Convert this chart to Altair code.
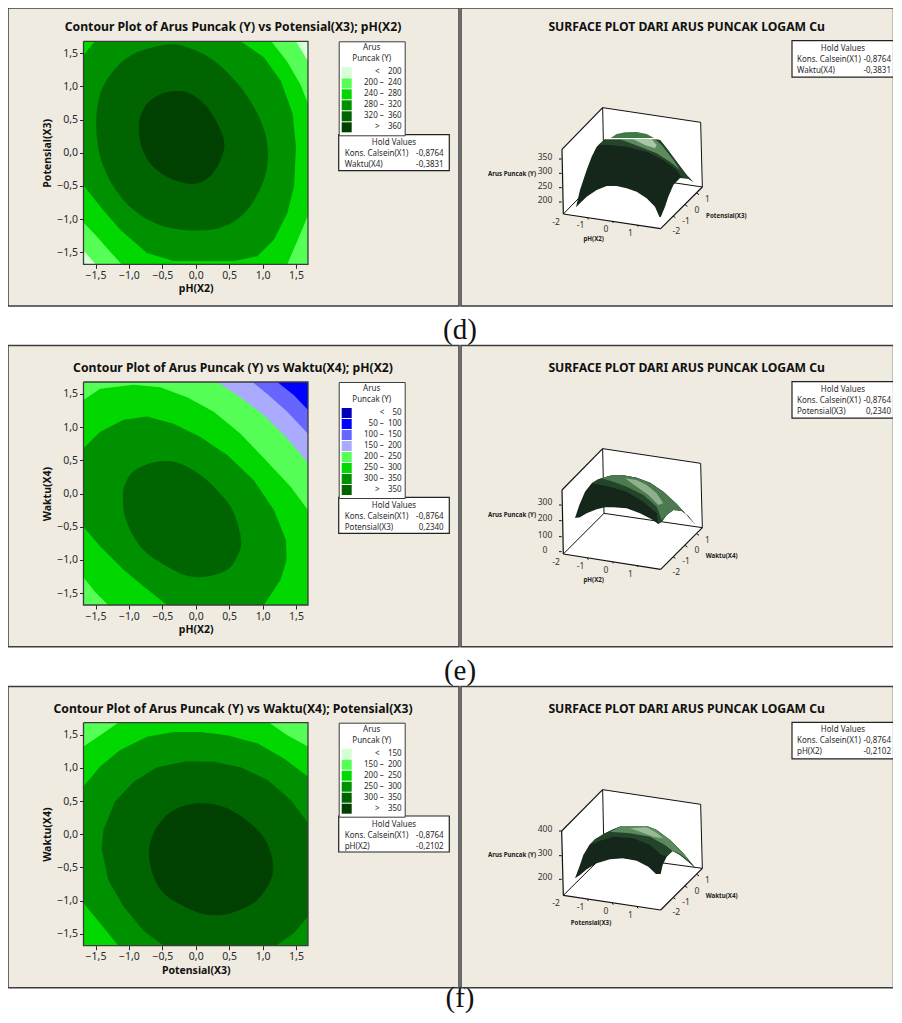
import altair as alt
import pandas as pd

SANS = "Noto Sans"
BEIGE = "#EFEBE0"
FRAME = "#3C3C3C"
INK = "#2A2A2A"

TICKS = [-1.5, -1.0, -0.5, 0.0, 0.5, 1.0, 1.5]
CORNERS = [(-1.68, 1.68), (1.68, 1.68), (1.68, -1.68), (-1.68, -1.68)]

# ---- colours
GREENS6 = ["#D5FFD5", "#55FF55", "#00D800", "#009100", "#006500", "#004000"]
E_COLORS = ["#0000BB", "#0000FF", "#6666FF", "#AAAAFF", "#55FF55", "#00D800", "#009100", "#006500"]

NB = "\u00a0"
def rng(a, b):
    return f"{a}{NB}–{NB}{NB}{b}"
def lt(b):
    return f"<{NB}{NB}{NB}{NB}{b}"
def gt(b):
    return f">{NB}{NB}{NB}{NB}{b}"

D_LABELS = [lt(200), rng(200, 240), rng(240, 280), rng(280, 320), rng(320, 360), gt(360)]
E_LABELS = [lt(50), rng(50, 100), rng(100, 150), rng(150, 200), rng(200, 250), rng(250, 300), rng(300, 350), gt(350)]
F_LABELS = [lt(150), rng(150, 200), rng(200, 250), rng(250, 300), rng(300, 350), gt(350)]

# ---- contour regions, panel (d)
D_200 = [(-1.68,1.68),(1.50,1.68),(1.68,1.38),(1.68,-1.68),(-1.50,-1.68),(-1.68,-1.47)]
D_240 = [(-1.68,1.68),(1.13,1.68),(1.37,1.37),(1.57,1.02),(1.68,0.74),(1.68,-0.94),(1.57,-1.21),(1.37,-1.68),(-1.11,-1.68),(-1.28,-1.49),(-1.48,-1.26),(-1.68,-1.05)]
D_280 = [(-1.68,1.47),(-1.51,1.68),(0.67,1.68),(1.02,1.44),(1.27,1.09),(1.45,0.59),(1.50,0.09),(1.47,-0.51),(1.37,-0.91),(1.17,-1.31),(0.92,-1.56),(0.57,-1.63),(-0.33,-1.63),(-0.73,-1.51),(-1.13,-1.16),(-1.43,-0.81),(-1.68,-0.49)]
D_320 = [(-1.49,0.44),(-1.43,0.89),(-1.23,1.24),(-0.93,1.49),(-0.43,1.63),(-0.13,1.59),(0.27,1.39),(0.67,0.99),(0.97,0.49),(1.08,0.04),(1.02,-0.41),(0.77,-0.86),(0.42,-1.11),(-0.03,-1.17),(-0.53,-1.09),(-0.93,-0.86),(-1.23,-0.51),(-1.43,-0.06)]
D_360 = [(-0.85,0.34),(-0.83,0.54),(-0.73,0.74),(-0.53,0.88),(-0.31,0.93),(-0.08,0.89),(0.17,0.69),(0.35,0.39),(0.43,0.12),(0.35,-0.16),(0.17,-0.39),(-0.08,-0.47),(-0.43,-0.36),(-0.68,-0.16),(-0.81,0.09)]

# ---- contour regions, panel (e)
E_100 = [(-1.68,1.68),(1.22,1.68),(1.47,1.48),(1.68,1.26),(1.68,-1.68),(-1.68,-1.68)]
E_150 = [(-1.68,1.68),(0.85,1.68),(1.07,1.50),(1.37,1.23),(1.68,0.90),(1.68,-1.68),(-1.68,-1.68)]
E_200 = [(-1.68,1.68),(0.32,1.68),(0.67,1.45),(1.02,1.18),(1.37,0.83),(1.68,0.46),(1.68,-1.68),(-1.68,-1.68)]
E_250 = [(-1.68,1.41),(-1.43,1.58),(-0.93,1.64),(-0.53,1.60),(-0.13,1.45),(0.27,1.23),(0.67,0.90),(1.07,0.48),(1.42,0.10),(1.68,-0.25),(1.68,-1.68),(-1.31,-1.68),(-1.51,-1.48),(-1.68,-1.26)]
E_300 = [(-1.68,0.68),(-1.43,0.93),(-1.08,1.11),(-0.73,1.16),(-0.33,1.05),(0.07,0.85),(0.47,0.58),(0.87,0.20),(1.17,-0.25),(1.35,-0.70),(1.36,-1.00),(1.27,-1.30),(1.02,-1.68),(-0.43,-1.68),(-0.78,-1.40),(-1.08,-1.15),(-1.43,-0.80),(-1.68,-0.50)]
E_350 = [(-1.09,-0.10),(-1.07,0.10),(-0.96,0.31),(-0.73,0.44),(-0.48,0.49),(-0.23,0.45),(0.07,0.28),(0.32,0.05),(0.55,-0.25),(0.68,-0.70),(0.62,-0.95),(0.47,-1.15),(0.17,-1.25),(-0.13,-1.24),(-0.43,-1.10),(-0.73,-0.90),(-0.93,-0.65),(-1.06,-0.35)]

# ---- contour regions, panel (f)
F_200 = [(-1.68,1.32),(-1.43,1.49),(-1.16,1.68),(1.10,1.68),(1.37,1.49),(1.68,1.32),(1.68,-1.68),(-1.68,-1.68)]
F_250 = [(-1.68,0.72),(-1.43,1.02),(-1.13,1.27),(-0.73,1.47),(-0.33,1.54),(0.07,1.54),(0.47,1.49),(0.92,1.37),(1.32,1.14),(1.68,0.87),(1.68,-1.68),(-1.16,-1.68),(-1.43,-1.34),(-1.68,-1.04)]
F_300 = [(-1.41,-0.21),(-1.38,0.07),(-1.21,0.49),(-0.93,0.79),(-0.58,1.01),(-0.13,1.10),(0.27,1.09),(0.67,1.01),(1.07,0.82),(1.42,0.52),(1.68,0.17),(1.68,-1.24),(1.47,-1.49),(1.20,-1.68),(-0.48,-1.68),(-0.78,-1.46),(-1.08,-1.09),(-1.31,-0.69)]
F_350 = [(-0.70,-0.29),(-0.63,0.02),(-0.48,0.24),(-0.28,0.39),(-0.03,0.46),(0.27,0.45),(0.57,0.34),(0.87,0.12),(1.07,-0.14),(1.16,-0.49),(1.10,-0.74),(0.92,-0.99),(0.67,-1.14),(0.37,-1.22),(0.07,-1.19),(-0.23,-1.06),(-0.48,-0.89),(-0.63,-0.64)]

# ---- surfaces, in a 720x540 projected plane
S_DARK, S_1, S_2, S_3, S_CAP = "#15271A", "#25452B", "#5E8A60", "#A8C8A8", "#3D7A45"

SD_BODY = [(138,352),(150,300),(170,240),(185,200),(200,170),(225,148),(372,146),(390,150),(410,175),(440,215),(470,255),(490,276),(475,266),(450,264),(430,285),(415,320),(405,350),(392,382),(388,380),(375,350),(350,325),(320,305),(290,295),(260,288),(230,288),(200,300),(170,320),(150,340)]
SD_CAP = [(242,144),(260,132),(285,127),(320,126),(350,132),(372,144)]
SD_B1 = [(205,165),(225,148),(372,148),(390,150),(410,175),(440,215),(470,255),(490,276),(475,266),(455,262),(440,240),(400,210),(350,185),(290,170),(240,165)]
SD_B2 = [(270,148),(375,148),(395,165),(430,210),(450,240),(420,215),(380,190),(330,170)]
SD_B3 = [(310,148),(365,148),(380,165),(375,175),(345,165)]
SD_GAP = [(228,146),(385,146)]

SE_BODY = [(135,264),(148,225),(165,185),(185,160),(205,148),(240,137),(275,135),(320,143),(360,158),(400,185),(440,222),(470,255),(497,285),(475,258),(455,242),(430,240),(410,255),(395,275),(385,282),(365,268),(330,250),(290,235),(250,232),(225,232),(200,238),(170,250),(150,262)]
SE_B1 = [(185,160),(205,148),(240,137),(275,135),(320,143),(360,158),(400,185),(440,222),(470,255),(497,285),(475,258),(455,242),(430,240),(410,255),(395,275),(385,282),(380,250),(340,215),(290,185),(240,170)]
SE_B2 = [(215,145),(240,137),(275,135),(320,143),(360,158),(400,185),(440,222),(470,255),(450,240),(430,240),(410,255),(395,270),(380,230),(340,195),(290,170),(250,155)]
SE_B3 = [(285,145),(320,150),(350,165),(380,190),(400,220),(385,225),(355,195),(320,170)]

SF_BODY = [(135,325),(150,285),(160,255),(178,225),(195,208),(225,190),(250,178),(275,168),(350,168),(380,180),(420,210),(460,250),(480,275),(497,295),(475,275),(450,255),(428,243),(410,260),(398,285),(392,312),(378,312),(355,290),(320,272),(280,265),(240,268),(200,280),(170,298),(150,315)]
SF_B1 = [(178,225),(195,208),(225,190),(250,178),(275,168),(350,168),(380,180),(420,210),(460,250),(497,295),(475,275),(450,255),(428,243),(410,258),(395,255),(360,225),(310,205),(250,200),(210,212)]
SF_B2 = [(240,185),(275,168),(350,168),(380,180),(420,210),(460,250),(480,275),(450,252),(428,243),(405,225),(360,200),(300,190)]
SF_B3 = [(300,175),(350,172),(375,185),(400,205),(370,200),(330,185)]

# box corners: front-left, top-left, top-back-left, top-back-right, floor-right, floor-front, floor-back
BOX_D = dict(A=(100,372), G=(96,178), E=(218,53), F=(512,97), C=(517,291), B=(392,416), D=(222,247))
BOX_E = dict(A=(100,372), G=(96,180), E=(218,56), F=(512,100), C=(517,293), B=(392,418), D=(222,250))
BOX_F = dict(A=(100,376), G=(95,183), E=(218,59), F=(512,103), C=(517,295), B=(392,420), D=(222,255))

# z ticks (label, label y, tick y)
Z_D = [("350",200,207),("300",242,250),("250",287,293),("200",329,336)]
Z_E = [("300",217,225),("200",265,272),("100",316,320),("0",361,365)]
Z_F = [("400",178,183),("300",250,257),("200",322,328)]
# front axis labels and ticks
FRONT_LABELS = ["-2", "-1", "0", "1"]
FRONT_X = [78, 152, 228, 301]
FRONT_TICK_X = [172, 247, 321]
FRONT_D = [397, 406, 418, 430]
FRONT_E = [397, 408, 421, 432]
FRONT_F = [400, 411, 424, 436]
FRONT_TICK_Y_D = [383, 394, 405]
FRONT_TICK_Y_E = [384, 395, 406]
FRONT_TICK_Y_F = [388, 399, 410]
# side axis
SIDE_X = [439, 468, 501, 532]
SIDE_D = [424, 392, 361, 328]
SIDE_E = [427, 394, 361, 331]
SIDE_F = [427, 397, 364, 331]
SIDE_TICK_X = [429, 465, 500]
SIDE_TICK_Y_D = [378, 344, 309]
SIDE_TICK_Y_E = [380, 346, 311]
SIDE_TICK_Y_F = [382, 348, 313]

def polygons(seq):
    rows = []
    for band, pts in seq:
        for i, (x, y) in enumerate(pts):
            rows.append(dict(band=band, i=i, x=x, y=y))
    return pd.DataFrame(rows)

ONE = alt.Data(values=[{"a": 1}])

def txt(s, x, y, size=8, weight="normal", align="left", font=SANS, color=INK):
    return alt.Chart(ONE).mark_text(text=s, fontSize=size, fontWeight=weight, align=align, baseline="middle",
                                    font=font, color=color).encode(x=alt.value(x), y=alt.value(y))

def box(x0, y0, x1, y1, fill, stroke, sw=1.5):
    return alt.Chart(ONE).mark_rect(fill=fill, stroke=stroke, strokeWidth=sw).encode(
        x=alt.value(x0), x2=alt.value(x1), y=alt.value(y0), y2=alt.value(y1))

def contour_panel(title, xt, yt, labels, colors, seq, closed, plot_top, view_h, panel_top, panel_bot,
                  hold2, hold2v, hold_top, caption, cap_y, title_y):
    plot_bot = plot_top + 223
    xs = alt.Scale(domain=[-1.68, 1.68], range=[75.5, 300], nice=False, zero=False)
    ys = alt.Scale(domain=[-1.68, 1.68], range=[plot_bot, plot_top], nice=False, zero=False)
    lblx = "replace(format(datum.value,'.1f'),'.',',')"
    xax = alt.Axis(values=TICKS, labelExpr=lblx, grid=False, domain=False, tickSize=4, tickColor=INK, tickWidth=1,
                   labelFont=SANS, labelFontSize=10.5, labelColor=INK, labelPadding=2, labelFlush=False,
                   title=xt, titleFont=SANS, titleFontSize=10.5, titleFontWeight="bold", titleColor="#111",
                   titlePadding=3, offset=plot_bot - view_h, zindex=2)
    yax = alt.Axis(values=TICKS, labelExpr=lblx, grid=False, domain=False, tickSize=4, tickColor=INK, tickWidth=1,
                   labelFont=SANS, labelFontSize=10.5, labelColor=INK, labelPadding=2, labelFlush=False,
                   title=yt, titleFont=SANS, titleFontSize=10.5, titleFontWeight="bold", titleColor="#111",
                   titlePadding=4, offset=-75.5, zindex=2)
    legend = alt.Legend(orient="none", legendX=330.7, legendY=plot_top, title=["Arus", "Puncak (Y)"],
                        titleFont=SANS, titleFontSize=8, titleFontWeight="normal", titleColor=INK,
                        titleAlign="center", titleAnchor="middle", titleLineHeight=11, titlePadding=4,
                        labelFont=SANS, labelFontSize=8, labelColor=INK, labelAlign="right", labelOffset=50,
                        symbolType="square", symbolSize=100, symbolStrokeWidth=0, rowPadding=1,
                        fillColor="white", strokeColor=FRAME, padding=3)
    bg = box(0, panel_top, 451, panel_bot, BEIGE, FRAME)
    color = alt.Color("band:N", scale=alt.Scale(domain=labels, range=colors), legend=legend)
    regions = alt.Chart(polygons(seq)).mark_line(filled=True, strokeWidth=0).encode(
        x=alt.X("x:Q", scale=xs, axis=xax),
        y=alt.Y("y:Q", scale=ys, axis=yax),
        order="i:Q",
        color=color,
    )
    rounded = alt.Chart(polygons(closed)).mark_line(filled=True, strokeWidth=0, interpolate="cardinal-closed").encode(
        x=alt.X("x:Q", scale=xs), y=alt.Y("y:Q", scale=ys), order="i:Q", color=color)
    frame_df = pd.DataFrame(dict(x=[-1.68, 1.68, 1.68, -1.68, -1.68], y=[1.68, 1.68, -1.68, -1.68, 1.68], i=range(5)))
    frame = alt.Chart(frame_df).mark_line(color=FRAME, strokeWidth=1.3).encode(
        x=alt.X("x:Q", scale=xs), y=alt.Y("y:Q", scale=ys), order="i:Q")
    parts = [bg, regions, rounded, frame,
             txt(title, 225, title_y, size=12.2, weight="bold", align="center", color="#111"),
             box(330.7, hold_top, 441.3, hold_top + 36, "white", "#222", 1.2),
             txt("Hold Values", 386, hold_top + 8.5, align="center"),
             txt("Kons. Calsein(X1)", 336.7, hold_top + 19.5),
             txt("-0,8764", 435.7, hold_top + 19.5, align="right"),
             txt(hold2, 336.7, hold_top + 30.5),
             txt(hold2v, 435.7, hold_top + 30.5, align="right"),
             txt(caption, 452, cap_y, size=29, font="Liberation Serif", align="center", color="#111")]
    return alt.layer(*parts).properties(width=453, height=view_h)

def seg(a, b):
    return dict(x=a[0], y=a[1], x2=b[0], y2=b[1])

def surface_panel(body, shades, b, z, front_y, ftick_y, side_y, stick_y, xt, xt_pos, yt, yt_pos,
                  z_y, hold2, hold2v, hold_top, y_range, view_h, panel_top, panel_bot, title_y, gap=None):
    xs = alt.Scale(domain=[0, 720], range=[69, 309], nice=False, zero=False)
    ys = alt.Scale(domain=[0, 540], range=y_range, nice=False, zero=False)
    X = alt.X("x:Q", scale=xs, axis=None)
    Y = alt.Y("y:Q", scale=ys, axis=None)
    def poly(pts, fill):
        d = pd.DataFrame([dict(i=i, x=p[0], y=p[1]) for i, p in enumerate(pts)])
        return alt.Chart(d).mark_line(fill=fill, filled=True, strokeWidth=0, color=fill).encode(x=X, y=Y, order="i:Q")
    def rules(rows, sw=1.0, col="#111"):
        d = pd.DataFrame(rows)
        return alt.Chart(d).mark_rule(color=col, strokeWidth=sw).encode(x=X, y=Y, x2="x2:Q", y2="y2:Q")
    def labels(rows, size=8.5, weight="normal", col="#333"):
        d = pd.DataFrame(rows)
        return alt.Chart(d).mark_text(font=SANS, fontSize=size, fontWeight=weight, color=col, align="center", baseline="middle").encode(
            x=X, y=Y, text="t:N")
    parts = [box(0, panel_top, 432.5, panel_bot, BEIGE, FRAME),
             txt("SURFACE PLOT DARI ARUS PUNCAK LOGAM Cu", 225.7, title_y, size=12.2, weight="bold", align="center", color="#111"),
             box(331, hold_top, 432.5, hold_top + 36.5, "white", "#222", 1.2),
             txt("Hold Values", 382, hold_top + 8, align="center"),
             txt("Kons. Calsein(X1)", 336, hold_top + 19),
             txt("-0,8764", 430, hold_top + 19, align="right"),
             txt(hold2, 336, hold_top + 30),
             txt(hold2v, 430, hold_top + 30, align="right")]
    parts.append(poly([b["A"], b["G"], b["E"], b["F"], b["C"], b["B"]], "white"))
    parts.append(rules([seg(b["E"], b["D"]), seg(b["D"], b["C"]), seg(b["D"], b["A"]), seg(b["E"], b["F"]), seg(b["F"], b["C"])]))
    parts.append(poly(body, S_DARK))
    for pts, c in shades:
        parts.append(poly(pts, c))
    if gap:
        parts.append(alt.Chart(pd.DataFrame([seg(gap[0], gap[1])])).mark_rule(color="white", strokeWidth=1.2).encode(x=X, y=Y, x2="x2:Q", y2="y2:Q"))
    parts.append(rules([seg(b["A"], b["G"]), seg(b["G"], b["E"]), seg(b["C"], b["B"]), seg(b["B"], b["A"])], sw=1.2))
    parts.append(rules([seg((87, t), (95, t)) for _, _, t in z]))
    parts.append(rules([seg((x, y), (x + 3, y + 5)) for x, y in zip(FRONT_TICK_X, ftick_y)]))
    parts.append(rules([seg((x, y), (x + 7, y + 5)) for x, y in zip(SIDE_TICK_X, stick_y)]))
    parts.append(labels([dict(t=s, x=45, y=ly) for s, ly, _ in z]))
    parts.append(labels([dict(t=s, x=x, y=y) for s, x, y in zip(FRONT_LABELS, FRONT_X, front_y)]))
    parts.append(labels([dict(t=s, x=x, y=y) for s, x, y in zip(FRONT_LABELS, SIDE_X, side_y)]))
    bold = [dict(t=xt, x=xt_pos[0], y=xt_pos[1]), dict(t=yt, x=yt_pos[0], y=yt_pos[1]), dict(t="Arus Puncak (Y)", x=-54, y=z_y)]
    parts.append(labels(bold, size=6.2, weight="bold", col="#222"))
    return alt.layer(*parts).properties(width=433, height=view_h)

left_d = contour_panel("Contour Plot of Arus Puncak (Y) vs Potensial(X3); pH(X2)", "pH(X2)", "Potensial(X3)",
    D_LABELS, GREENS6,
    [(D_LABELS[0], CORNERS), (D_LABELS[1], D_200), (D_LABELS[2], D_240), (D_LABELS[3], D_280)],
    [(D_LABELS[4], D_320), (D_LABELS[5], D_360)],
    33.3, 337, 0, 298, "Waktu(X4)", "-0,3831", 126.7, "(d)", 322, 18.7)
right_d = surface_panel(SD_BODY, [(SD_CAP, S_CAP), (SD_B1, S_1), (SD_B2, S_2), (SD_B3, S_3)], BOX_D, Z_D,
    FRONT_D, FRONT_TICK_Y_D, SIDE_D, SIDE_TICK_Y_D, "pH(X2)", (191, 448), "Potensial(X3)", (589, 378), 252,
    "Waktu(X4)", "-0,3831", 32.7, [82, 262], 337, 0, 298, 18.7, gap=SD_GAP)

left_e = contour_panel("Contour Plot of Arus Puncak (Y) vs Waktu(X4); pH(X2)", "pH(X2)", "Waktu(X4)",
    E_LABELS, E_COLORS,
    [(E_LABELS[1], CORNERS), (E_LABELS[2], E_100), (E_LABELS[3], E_150), (E_LABELS[4], E_200), (E_LABELS[5], E_250), (E_LABELS[6], E_300)],
    [(E_LABELS[7], E_350)],
    37, 341, 0.5, 301.7, "Potensial(X3)", "0,2340", 152.3, "(e)", 326, 22.7)
right_e = surface_panel(SE_BODY, [(SE_B1, S_1), (SE_B2, "#4A7A4E"), (SE_B3, "#8FB08F")], BOX_E, Z_E,
    FRONT_E, FRONT_TICK_Y_E, SIDE_E, SIDE_TICK_Y_E, "pH(X2)", (191, 450), "Waktu(X4)", (575, 378), 255,
    "Potensial(X3)", "0,2340", 36.7, [85, 265], 341, 0.5, 301.7, 22.7)

left_f = contour_panel("Contour Plot of Arus Puncak (Y) vs Waktu(X4); Potensial(X3)", "Potensial(X3)", "Waktu(X4)",
    F_LABELS, GREENS6,
    [(F_LABELS[1], CORNERS), (F_LABELS[2], F_200), (F_LABELS[3], F_250), (F_LABELS[4], F_300)],
    [(F_LABELS[5], F_350)],
    36.7, 329, 0.5, 301.7, "pH(X2)", "-0,2102", 130, "(f)", 312, 22.7)
right_f = surface_panel(SF_BODY, [(SF_B1, S_1), (SF_B2, "#5A8A5E"), (SF_B3, "#9AB89A")], BOX_F, Z_F,
    FRONT_F, FRONT_TICK_Y_F, SIDE_F, SIDE_TICK_Y_F, "Potensial(X3)", (183, 459), "Waktu(X4)", (575, 378), 255,
    "pH(X2)", "-0,2102", 36.3, [84, 264], 329, 0.5, 301.7, 22.7)

chart = alt.concat(left_d, right_d, left_e, right_e, left_f, right_f, columns=2, spacing=0, bounds="flush"
                   ).resolve_scale(color="independent").properties(
                       padding={"top": -1, "bottom": -2, "left": -1, "right": -2}
                   ).configure_view(stroke=None)
chart.save("out.html", embed_options={"renderer": "svg", "actions": False})
